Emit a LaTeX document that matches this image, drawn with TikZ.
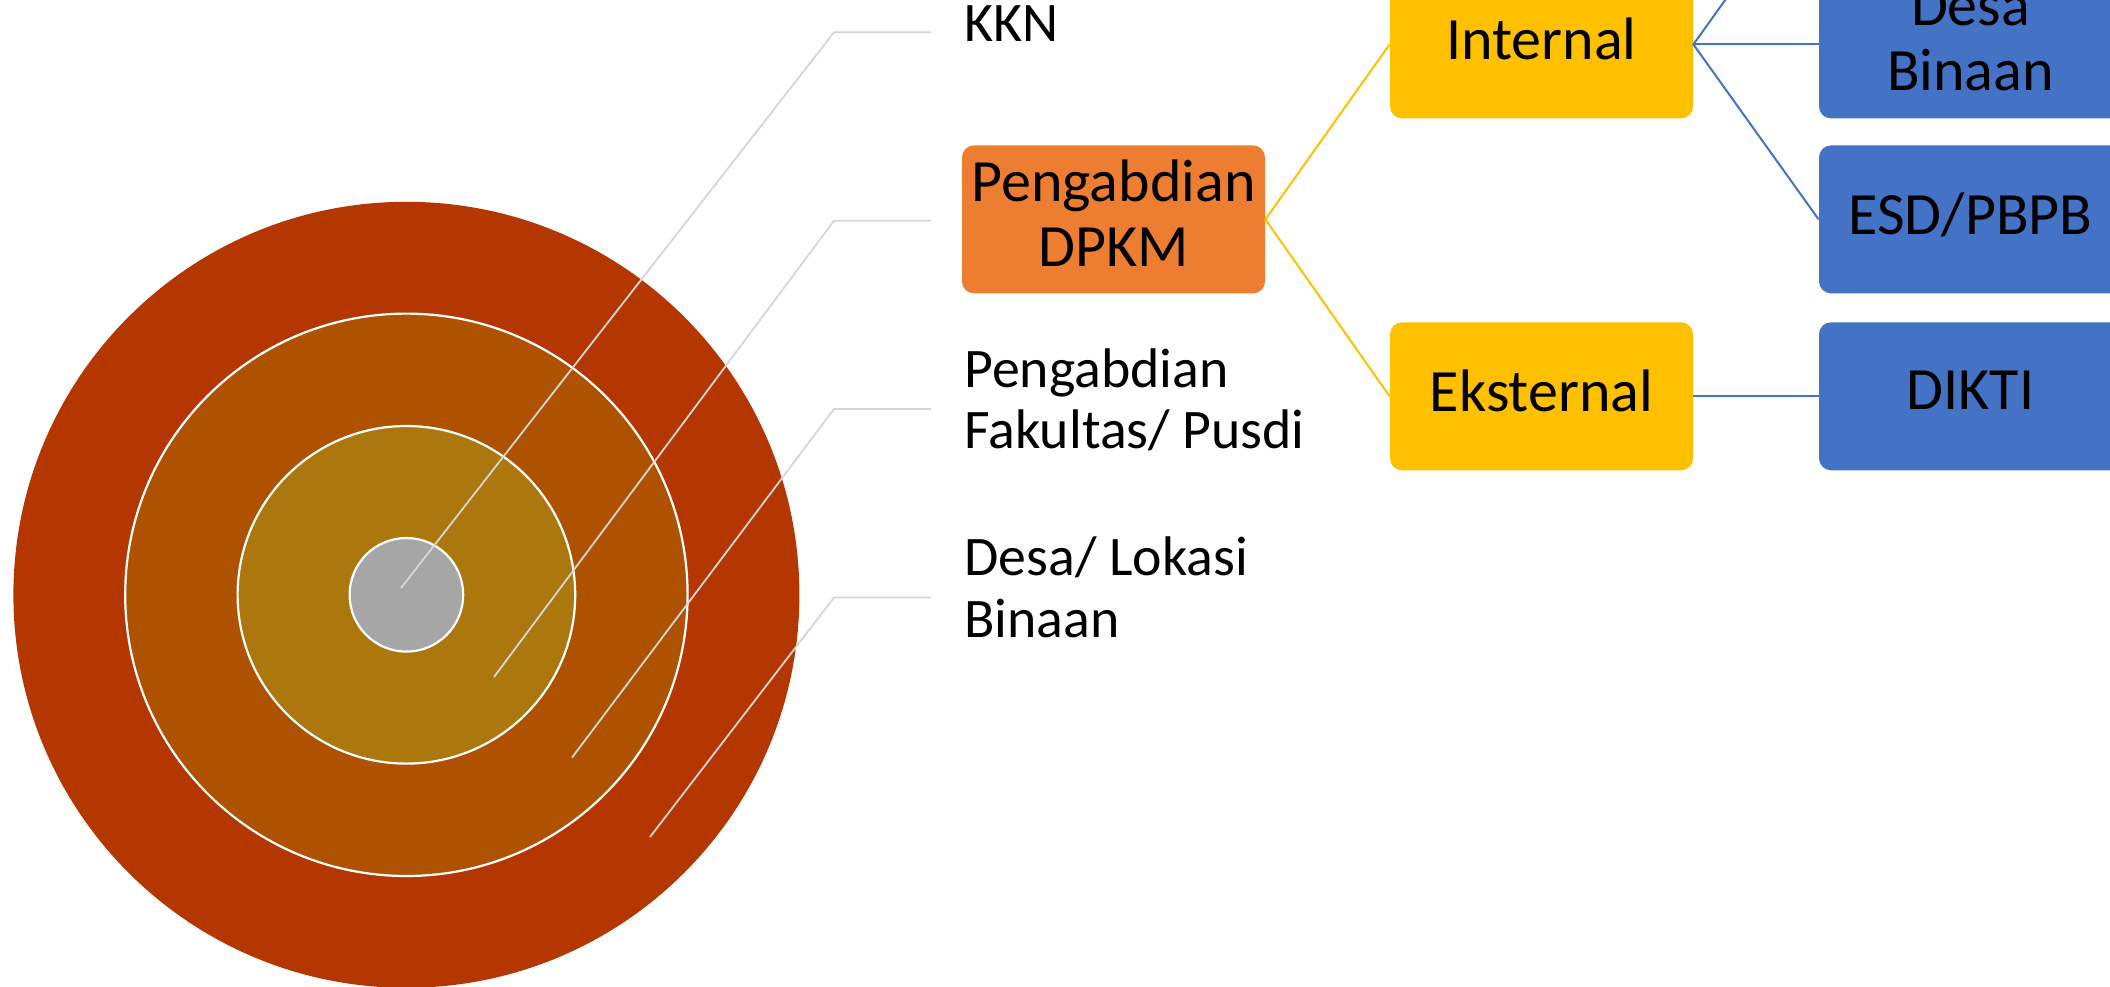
\documentclass[tikz,border=0pt]{standalone}
\usepackage{fontspec}
\setmainfont{Carlito}
\definecolor{outerC}{HTML}{B43600}
\definecolor{midC}{HTML}{AE5200}
\definecolor{innerC}{HTML}{AC780E}
\definecolor{coreC}{HTML}{A6A6A6}
\definecolor{orangeC}{HTML}{ED7D31}
\definecolor{yellowC}{HTML}{FFC000}
\definecolor{blueC}{HTML}{4472C4}
\definecolor{leadC}{HTML}{D6D6D6}
\newcommand\boxfont{\fontsize{30pt}{32.5pt}\selectfont\lineskiplimit=-100pt}
\newcommand\lblfont{\fontsize{27.9pt}{30.8pt}\selectfont\lineskiplimit=-100pt}
\newcommand\bst{\rule[-0.2em]{0pt}{0.844em}}
\newcommand\lst{\rule[-0.25em]{0pt}{0.894em}}
\begin{document}
\begin{tikzpicture}[x=0.5pt,y=-0.5pt,
  box/.style={rectangle, rounded corners=6pt, minimum width=151.5pt, minimum height=74pt, inner sep=0pt, align=center, font=\boxfont, text=black},
  lbl/.style={anchor=west, inner sep=0pt, align=left, font=\lblfont, text=black},
  leader/.style={draw=leadC, line width=0.9pt},
  ring/.style={draw=white, line width=1.1pt},
  ylink/.style={draw=yellowC, line width=1pt},
  blink/.style={draw=blueC, line width=1pt}]
\useasboundingbox (0,0) rectangle (2110,986);
\clip (0,0) rectangle (2110,986);
% concentric circles
\coordinate (c) at (406.4,594.8);
\fill[outerC] (c) circle[radius=196.5pt];
\filldraw[fill=midC, ring] (c) circle[radius=140.6pt];
\filldraw[fill=innerC, ring] (c) circle[radius=84.4pt];
\filldraw[fill=coreC, ring] (c) circle[radius=28.4pt];
% leader lines
\coordinate (a1) at (401,588);   \coordinate (b1) at (834,32.3);  \coordinate (e1) at (931,32.3);
\coordinate (a2) at (494,677);   \coordinate (b2) at (834,220.7); \coordinate (e2) at (931,220.7);
\coordinate (a3) at (572,757.6); \coordinate (b3) at (834,409);   \coordinate (e3) at (931,409);
\coordinate (a4) at (650,837);   \coordinate (b4) at (834,597.5); \coordinate (e4) at (931,597.5);
\draw[leader] (a1) -- (b1) -- (e1);
\draw[leader] (a2) -- (b2) -- (e2);
\draw[leader] (a3) -- (b3) -- (e3);
\draw[leader] (a4) -- (b4) -- (e4);
% labels
\node[lbl] (kkn) at (964,31) {\lst KKN};
\node[lbl] (fak) at (964,405.5) {\lst Pengabdian\\\lst Fakultas/ Pusdi};
\node[lbl] (lok) at (964,594) {\lst Desa/ Lokasi\\\lst Binaan};
% boxes
\node[box, fill=orangeC] (dpkm) at (1113.5,219.4) {\bst Pengabdian\\\bst DPKM};
\node[box, fill=yellowC] (int) at (1541.5,44.4) {\bst Internal};
\node[box, fill=yellowC] (eks) at (1541.5,396.3) {\bst Eksternal};
\node[box, fill=blueC] (desa) at (1970.5,44.4) {\bst Desa\\\bst Binaan};
\node[box, fill=blueC] (esd) at (1970.5,219.4) {\bst ESD/PBPB};
\node[box, fill=blueC] (dikti) at (1970.5,396.3) {\bst DIKTI};
\coordinate (up) at (1819,-131);
% connectors
\draw[ylink] (int.west) -- (dpkm.east) -- (eks.west);
\draw[blink] (up) -- (int.east) -- (esd.west);
\draw[blink] (int.east) -- (desa.west);
\draw[blink] (eks.east) -- (dikti.west);
\end{tikzpicture}
\end{document}
